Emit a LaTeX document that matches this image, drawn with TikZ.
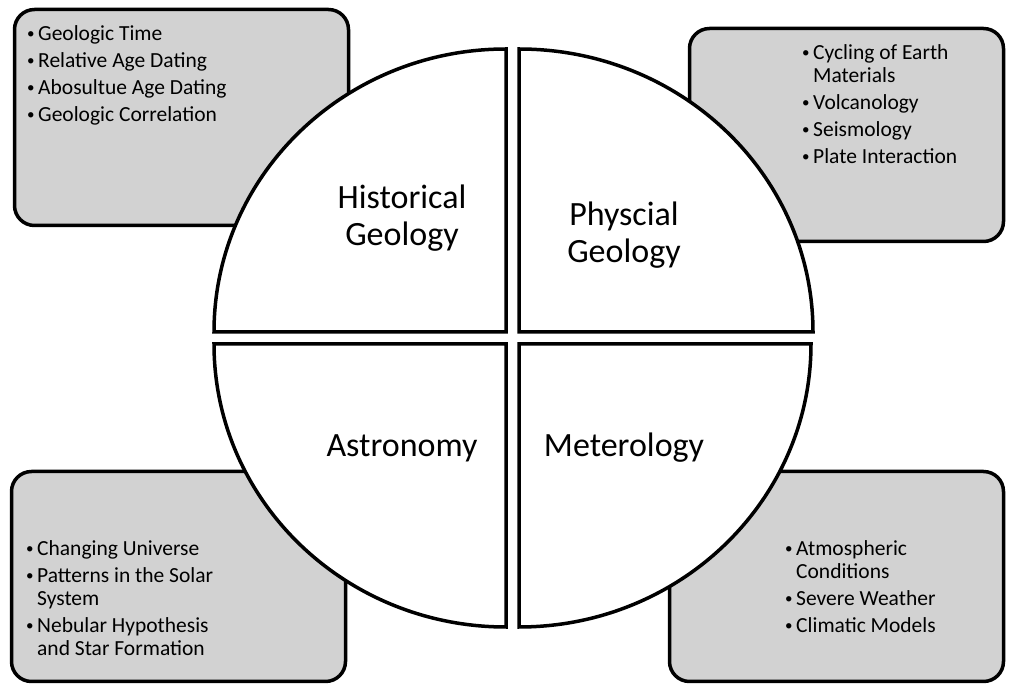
\documentclass[tikz,border=0pt]{standalone}
\usepackage{fontspec}
\setmainfont{Carlito}
\definecolor{boxgray}{RGB}{210,210,210}
\newcommand{\blt}{\makebox[11pt][l]{\raisebox{1.5pt}{\scalebox{0.7}{\textbullet}}}}
\newcommand{\cnt}{\hspace*{11pt}}

\begin{document}
\begin{tikzpicture}
[x=1pt, y=1pt,
 topic/.style ={rectangle, draw=black, line width=3.5pt, fill=boxgray, rounded corners=20pt},
 quad/.style ={draw=black, line width=3.5pt, fill=white},
 title/.style ={align=center, font=\fontsize{34}{37}\selectfont},
 items/.style ={align=left, anchor=north west, inner sep=0pt, font=\fontsize{21.5}{23}\selectfont}]
\useasboundingbox (0,0) rectangle (1013,686);
\fill[white] (0,0) rectangle (1013,686);
% grey boxes behind the circle
\draw (181.5, 568.5) node[topic, minimum width=334pt, minimum height=216pt] (hgbox) {};
\draw (846.5, 551) node[topic, minimum width=314pt, minimum height=213pt] (pgbox) {};
\draw (178.5, 109.5) node[topic, minimum width=334pt, minimum height=210pt] (asbox) {};
\draw (836.5, 109.5) node[topic, minimum width=334pt, minimum height=210pt] (mtbox) {};
% the four quarters
\draw[quad] (506,354) -- (214,354) arc[start angle=180, end angle=90, x radius=292pt, y radius=283pt] -- cycle;
\draw[quad] (519,354) -- (519,637) arc[start angle=90, end angle=0, x radius=294pt, y radius=283pt] -- cycle;
\draw[quad] (506,342) -- (506,59) arc[start angle=270, end angle=180, x radius=292pt, y radius=283pt] -- cycle;
\draw[quad] (519,342) -- (811,342) arc[start angle=0, end angle=-90, x radius=292pt, y radius=283pt] -- cycle;
% titles
\draw (402, 468) node[title] (hist) {Historical\\Geology};
\draw (624, 451) node[title] (phys) {Physcial\\Geology};
\draw (402, 238) node[title] (astro) {Astronomy};
\draw (624, 238) node[title] (meteo) {Meterology};
% lists
\draw (27, 661) node[items] (hglist) {\blt Geologic Time\\[4pt]\blt Relative Age Dating\\[4pt]\blt Abosultue Age Dating\\[4pt]\blt Geologic Correlation};
\draw (802, 642) node[items] (pglist) {\blt Cycling of Earth\\\cnt Materials\\[4pt]\blt Volcanology\\[4pt]\blt Seismology\\[4pt]\blt Plate Interaction};
\draw (26, 146) node[items] (aslist) {\blt Changing Universe\\[4pt]\blt Patterns in the Solar\\\cnt System\\[4pt]\blt Nebular Hypothesis\\\cnt and Star Formation};
\draw (785, 146) node[items] (mtlist) {\blt Atmospheric\\\cnt Conditions\\[4pt]\blt Severe Weather\\[4pt]\blt Climatic Models};
\end{tikzpicture}
\end{document}
